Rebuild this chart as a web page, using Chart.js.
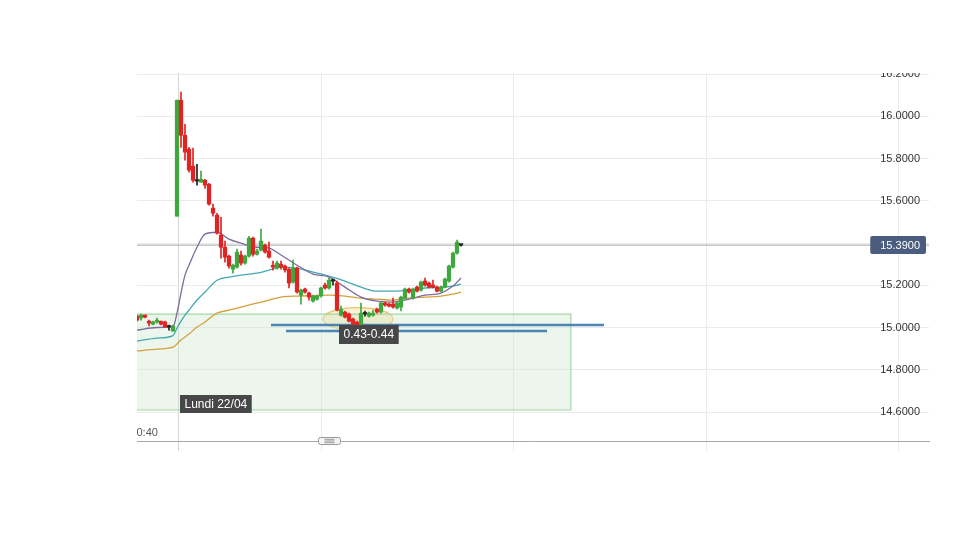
<!DOCTYPE html>
<html><head><meta charset="utf-8">
<script src="https://cdn.jsdelivr.net/npm/chart.js@4.4.1/dist/chart.umd.min.js"></script>
<style>
html,body{margin:0;padding:0;background:#fff;}
#wrap{position:absolute;left:0;top:0;width:960px;height:540px;clip-path:inset(73px 0 0 0);}
canvas{display:block;}
</style></head><body>
<div id="wrap"><canvas id="c" width="960" height="540"></canvas></div>
<script>
// ---- data (candle slot index = position in arrays) ----
const opens = [
15.054,15.045,15.059,15.030,15.016,15.026,15.030,15.026,15.002,14.983,
15.527,16.076,15.910,15.844,15.764,15.693,15.688,15.697,15.678,15.565,
15.532,15.437,15.380,15.338,15.276,15.286,15.343,15.305,15.338,15.423,
15.347,15.366,15.390,15.362,15.295,15.281,15.300,15.291,15.276,15.215,
15.281,15.153,15.182,15.163,15.125,15.134,15.149,15.201,15.187,15.220,
15.210,15.059,15.073,15.064,15.040,15.026,15.016,15.064,15.054,15.059,
15.087,15.073,15.116,15.111,15.111,15.092,15.097,15.139,15.182,15.139,
15.191,15.177,15.220,15.210,15.201,15.191,15.172,15.191,15.220,15.286,
15.352,15.390];
const closes = [
15.035,15.059,15.049,15.021,15.026,15.035,15.016,15.002,15.002,15.007,
16.076,15.910,15.830,15.745,15.697,15.693,15.702,15.674,15.584,15.541,
15.447,15.380,15.333,15.291,15.295,15.357,15.305,15.338,15.423,15.347,
15.362,15.409,15.357,15.333,15.286,15.305,15.286,15.272,15.210,15.281,
15.168,15.177,15.168,15.144,15.149,15.149,15.187,15.187,15.224,15.220,
15.082,15.087,15.049,15.030,15.016,15.002,15.068,15.064,15.068,15.068,
15.073,15.116,15.106,15.101,15.097,15.116,15.144,15.182,15.168,15.182,
15.172,15.215,15.201,15.191,15.191,15.172,15.191,15.229,15.291,15.352,
15.404,15.390];
const highs = [
15.059,15.064,15.059,15.035,15.030,15.045,15.030,15.030,15.012,15.012,
16.076,16.114,15.962,15.853,15.849,15.773,15.740,15.702,15.683,15.584,
15.541,15.522,15.409,15.343,15.300,15.371,15.362,15.343,15.432,15.428,
15.371,15.466,15.395,15.404,15.314,15.314,15.314,15.295,15.281,15.319,
15.286,15.182,15.187,15.168,15.153,15.153,15.191,15.210,15.234,15.229,
15.220,15.101,15.078,15.068,15.045,15.030,15.116,15.078,15.073,15.082,
15.092,15.120,15.120,15.116,15.139,15.120,15.149,15.187,15.187,15.187,
15.196,15.220,15.234,15.215,15.224,15.196,15.196,15.234,15.295,15.357,
15.414,15.395];
const lows = [
15.030,15.035,15.045,15.007,15.012,15.021,15.012,15.002,14.988,14.983,
15.527,15.853,15.792,15.735,15.688,15.674,15.688,15.659,15.579,15.527,
15.442,15.328,15.309,15.281,15.257,15.281,15.295,15.300,15.333,15.338,
15.343,15.362,15.352,15.328,15.272,15.276,15.276,15.262,15.187,15.210,
15.163,15.111,15.163,15.130,15.120,15.130,15.144,15.182,15.182,15.201,
15.078,15.054,15.045,15.026,15.012,14.993,15.007,15.054,15.049,15.054,
15.068,15.068,15.101,15.097,15.092,15.087,15.078,15.134,15.163,15.134,
15.168,15.172,15.196,15.187,15.187,15.168,15.168,15.187,15.215,15.281,
15.347,15.385];

// moving averages, sampled at candle slots
const maSlots  = [0,5,9,10,11,12,13,15,17,20,23,26,30,33,36,40,44,48,52,56,60,64,68,72,76,79,81];
const maPurple = [14.988,15.000,15.004,15.068,15.163,15.248,15.295,15.380,15.442,15.451,15.418,15.399,15.380,15.376,15.343,15.295,15.253,15.239,15.191,15.144,15.125,15.120,15.134,15.153,15.163,15.196,15.234];
const maTeal   = [14.936,14.950,14.962,14.997,15.030,15.059,15.082,15.130,15.168,15.224,15.239,15.248,15.257,15.272,15.286,15.281,15.262,15.243,15.220,15.191,15.172,15.172,15.177,15.187,15.191,15.196,15.205];
const maOrange = [14.889,14.898,14.907,14.922,14.941,14.955,14.969,15.002,15.026,15.068,15.082,15.097,15.116,15.130,15.144,15.149,15.151,15.153,15.149,15.139,15.134,15.130,15.139,15.144,15.149,15.158,15.168];

const lastPrice = 15.39;
const yTicks = [14.6,14.8,15.0,15.2,15.4,15.6,15.8,16.0,16.2];
const timeGrid = [10.25,46,94,142.25,190.25];   // slot positions of time grid lines
const dayStart = 10.25;
const zone = {from:0, to:108.6, low:14.607, high:15.066};
const levelValues = [15.012, 14.983];
const levelFrom = [33.5, 37.25];
const levelTo = [116.75, 102.5];
const gapLabel = '0.43-0.44';
const dayLabel = 'Lundi 22/04';
const timeLabel = '10:40';

const GREEN='#3ea83e', RED='#e02424', DOJI='#222222';
const colorOf = i => closes[i]>opens[i]?GREEN:(closes[i]<opens[i]?RED:DOJI);
const slots = opens.map((_,i)=>i);
const FONT = '"Liberation Sans", Arial, sans-serif';

const bodies = slots.map(i=>({x:i,y:[Math.min(opens[i],closes[i]),Math.max(opens[i],closes[i])]}));
const wicks = slots.map(i=>({x:i,y:[lows[i],highs[i]]}));
const ma = arr => maSlots.map((s,k)=>({x:s,y:arr[k]}));

const annot = {
  id:'annot',
  beforeDatasetsDraw(chart){
    const {ctx, scales:{x,y}} = chart;
    const cx = x.getPixelForValue(55.25), cy = y.getPixelForValue(15.040);
    ctx.save();
    ctx.beginPath(); ctx.ellipse(cx, cy, 35, 11.5, 0, 0, Math.PI*2);
    ctx.fillStyle='rgba(250,222,160,0.45)'; ctx.fill();
    ctx.strokeStyle='#f0c266'; ctx.lineWidth=1.2; ctx.stroke();
    ctx.restore();
  },
  afterDatasetsDraw(chart){
    const {ctx, scales:{x,y}, chartArea:a} = chart;
    ctx.save();
    ctx.font = '12px '+FONT; ctx.textBaseline='middle';
    const box = (text, left, cy, h) => {
      const w = ctx.measureText(text).width;
      ctx.fillStyle='#474747';
      ctx.fillRect(left, cy-h/2, w+9, h);
      ctx.fillStyle='#ffffff'; ctx.textAlign='left';
      ctx.fillText(text, left+4.5, cy+0.5);
    };
    box(gapLabel, x.getPixelForValue(50.5), y.getPixelForValue(14.967), 19);
    box(dayLabel, x.getPixelForValue(dayStart)+2, y.getPixelForValue(14.638), 18);
    ctx.save();
    ctx.beginPath(); ctx.rect(a.left, a.top, a.right-a.left, a.bottom-a.top); ctx.clip();
    ctx.font='11px '+FONT; ctx.fillStyle='#555'; ctx.textAlign='left';
    const w1 = ctx.measureText('1').width;
    ctx.fillText(timeLabel, a.left - w1 - 0.5, a.bottom-8);
    ctx.restore();
    ctx.restore();
  },
  afterDraw(chart){
    const {ctx, scales:{y}, chartArea:a} = chart;
    ctx.save();
    const py = y.getPixelForValue(lastPrice);
    ctx.font='11px '+FONT;
    const t = lastPrice.toFixed(4);
    const tw = ctx.measureText(t).width;
    const right = a.right-9;
    const bx = right - tw - 10, bw = tw + 16, bh = 18;
    ctx.fillStyle='#4b5d7e';
    ctx.beginPath(); ctx.roundRect(bx, py-bh/2, bw, bh, 2); ctx.fill();
    ctx.fillStyle='#fff'; ctx.textAlign='right'; ctx.textBaseline='middle';
    ctx.fillText(t, right, py+0.5);
    const hx = 318.5, hy = a.bottom-3.5;
    ctx.fillStyle='#f4f4f4'; ctx.strokeStyle='#9a9a9a'; ctx.lineWidth=1;
    ctx.beginPath(); ctx.roundRect(hx, hy, 22, 7, 2); ctx.fill(); ctx.stroke();
    for (let k=0;k<3;k++){ ctx.beginPath(); ctx.moveTo(hx+6, hy+1.8+k*1.7); ctx.lineTo(hx+16, hy+1.8+k*1.7); ctx.stroke(); }
    ctx.restore();
  }
};

new Chart(document.getElementById('c'), {
  type:'bar',
  data:{datasets:[
    {type:'bar', data:bodies, backgroundColor:slots.map(colorOf), barThickness:3.6, grouped:false, minBarLength:1.5, order:0},
    {type:'bar', data:wicks, backgroundColor:slots.map(colorOf), barThickness:1, grouped:false, order:1},
    {type:'line', data:[{x:levelFrom[0],y:levelValues[0]},{x:levelTo[0],y:levelValues[0]}], borderColor:'rgba(60,120,175,0.9)', borderWidth:2.5, pointRadius:0, order:2},
    {type:'line', data:[{x:levelFrom[1],y:levelValues[1]},{x:levelTo[1],y:levelValues[1]}], borderColor:'rgba(60,120,175,0.9)', borderWidth:2.5, pointRadius:0, order:2},
    {type:'line', data:ma(maPurple), borderColor:'#7d6a9e', borderWidth:1.3, pointRadius:0, cubicInterpolationMode:'monotone', order:3},
    {type:'line', data:ma(maTeal), borderColor:'#45a8b0', borderWidth:1.3, pointRadius:0, cubicInterpolationMode:'monotone', order:3},
    {type:'line', data:ma(maOrange), borderColor:'#d4a03c', borderWidth:1.3, pointRadius:0, cubicInterpolationMode:'monotone', order:3},
    {type:'line', data:[{x:0,y:lastPrice},{x:198,y:lastPrice}], borderColor:'#a3a3ab', borderWidth:1, pointRadius:0, order:4},
    {type:'bar', data:[{x:(zone.from+zone.to)/2, y:[zone.low, zone.high]}], backgroundColor:'rgba(200,230,200,0.35)', borderColor:'rgba(150,205,150,0.75)', borderWidth:1, borderSkipped:'left', barThickness:434.4, grouped:false, order:5}
  ]},
  options:{
    responsive:false, animation:false, devicePixelRatio:1,
    layout:{padding:{left:137, right:31, top:72, bottom:89}},
    plugins:{legend:{display:false}, tooltip:{enabled:false}},
    scales:{
      x:{type:'linear', min:0, max:198, offset:false,
         afterBuildTicks:s=>{s.ticks = timeGrid.map(v=>({value:v}));},
         ticks:{display:false},
         grid:{offset:false, color:c=>c.tick && c.tick.value===dayStart?'#d6d6d6':'#ebebeb', tickLength:10, drawTicks:true},
         border:{display:true, color:'#a8a8a8'}},
      y:{position:'right', min:14.4628, max:16.2095,
         afterBuildTicks:s=>{s.ticks = yTicks.map(v=>({value:v}));},
         afterFit:s=>{s.width = 0;},
         ticks:{mirror:true, padding:-9, color:'#333', font:{family:FONT, size:11},
                callback:v=>Math.abs(v-15.4)<1e-6?'':Number(v).toFixed(4)},
         grid:{color:'#ebebeb', drawTicks:false},
         border:{display:false}}
    }
  },
  plugins:[annot]
});
</script>
</body></html>
